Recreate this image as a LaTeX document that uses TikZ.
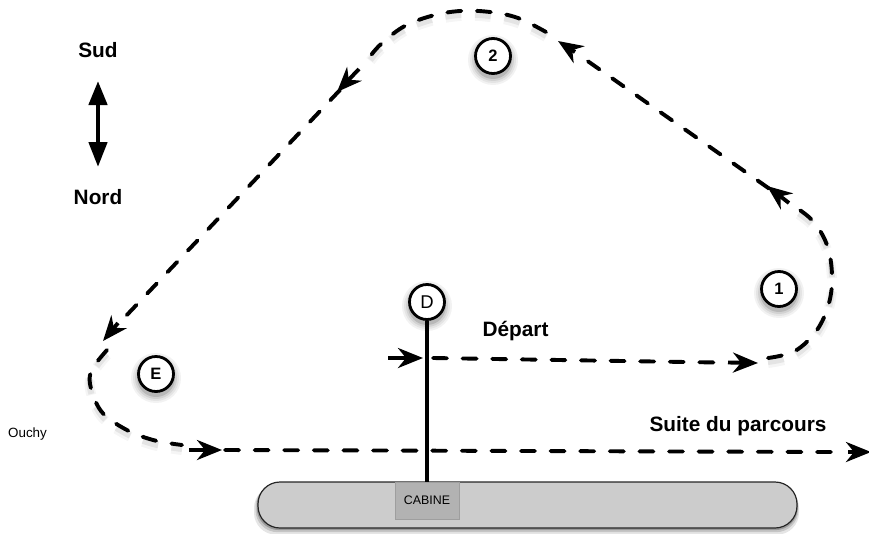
\documentclass[tikz,border=0pt]{standalone}
\usepackage{fontspec}
\setmainfont{Liberation Sans}
\usetikzlibrary{arrows.meta}

\tikzset{
  station/.style={circle,draw=black,fill=white,line width=2.8,minimum size=35,inner sep=0,font=\fontsize{16.5}{18}\bfseries},
  routedash/.style={line width=3.9,line cap=round,dash pattern=on 14 off 15.6},
  routehead/.style={line width=3.9,-{Stealth[length=25,width=20,inset=8]}},
  routeglow/.style={preaction={draw,black,opacity=.04,line width=10,line cap=butt,dash pattern=on 16 off 13.6,transform canvas={yshift=-5pt}},preaction={draw,black,opacity=.07,line width=6,line cap=butt,dash pattern=on 16 off 13.6,transform canvas={yshift=-4pt}}},
  boldlabel/.style={font=\fontsize{20.8}{22}\bfseries},
}

\begin{document}
\begin{tikzpicture}[x=1pt,y=-1pt]
  \useasboundingbox (0,0) rectangle (869,533);

  % band and cabin
  \foreach \w/\o in {8/.10,5/.14,2.5/.22}
    \fill[black,opacity=\o,rounded corners=22] (258-\w/2,482+\w/2) rectangle (797+\w/4,528+\w/1.2);
  \node[draw=black!85,fill=black!20,line width=1.2,rounded corners=22,minimum width=539,minimum height=46,inner sep=0] (band) at (527.5,505) {};
  \node[draw=black!38,fill=black!30,line width=.8,minimum width=64,minimum height=37,inner sep=0,font=\fontsize{12.4}{14}\selectfont] (cabine) at (427,500.5) {CABINE};

  % stations
  \foreach \nm/\x/\y/\lab in {dep/427/302/{\fontsize{18.5}{20}\mdseries D},one/779/289/1,two/493/56/2,ent/156/374/E} {
    \foreach \r/\o in {25/.05,23/.06,21/.08,19/.12}
      \fill[black,opacity=\o] (\x,\y+4) circle [radius=\r];
    \node[station] (\nm) at (\x,\y) {\lab};
  }
  \draw[line width=3.9] (dep.south) -- (cabine.north);

  % route
  \coordinate (startin) at (388,358);
  \coordinate (starttip) at (423,358);
  \coordinate (startdash) at (433,358);
  \coordinate (onein) at (717,362.5);
  \coordinate (oneshaft) at (728,362.5);
  \coordinate (onetip) at (758,363);
  \coordinate (upshaft) at (789,203);
  \coordinate (uptip) at (767,186);
  \coordinate (updash) at (769,188.5);
  \coordinate (twoin) at (584,58.5);
  \coordinate (twonotch) at (575,52);
  \coordinate (twotip) at (558,41);
  \coordinate (downshaft) at (359,69);
  \coordinate (downtip) at (337,92);
  \coordinate (downdash) at (340,90);
  \coordinate (entin) at (125,317);
  \coordinate (entnotch) at (118,323);
  \coordinate (enttip) at (103,341);
  \coordinate (outshaft) at (189,450);
  \coordinate (outtip) at (222,450);
  \coordinate (outdash) at (225,450);
  \coordinate (endin) at (835,452);
  \coordinate (endshaft) at (848,452);
  \coordinate (endtip) at (871,452);

  \draw[routehead] (startin) -- (starttip);
  \draw[routedash] (startdash) -- (onein);
  \draw[routehead] (oneshaft) -- (onetip);
  \draw[routedash,routeglow] plot[smooth,tension=.6] coordinates {(768,358) (795,351) (817,330) (829,303) (832,275) (827,245) (812,220) (789,203)};
  \draw[routedash] (updash) -- (twoin);
  \draw[routehead] (upshaft) -- (uptip);
  \draw[routehead] (twonotch) -- (twotip);
  \draw[routedash,routeglow] plot[smooth,tension=.6] coordinates {(546,32) (518,18) (490,12) (460,11) (431,16) (403,27) (380,45) (369,58)};
  \draw[routedash] (downdash) -- (entin);
  \draw[routehead] (downshaft) -- (downtip);
  \draw[routehead] (entnotch) -- (enttip);
  \draw[routedash,routeglow] plot[smooth,tension=.6] coordinates {(107,350) (93,368) (90,384) (101,411) (125,429) (153,440) (182,445)};
  \draw[routehead] (outshaft) -- (outtip);
  \draw[routedash] (outdash) -- (endin);
  \draw[routehead] (endshaft) -- (endtip);

  % labels
  \node[boldlabel] (sud) at (98,50) {Sud};
  \node[boldlabel] (nord) at (98,197) {Nord};
  \node[boldlabel] (depart) at (515.5,331) {Départ};
  \node[boldlabel] (suite) at (738,426) {Suite du parcours};
  \node[font=\fontsize{13.4}{15}\selectfont] (ouchy) at (27.5,434) {Ouchy};

  \coordinate (northtip) at (98,81);
  \coordinate (southtip) at (98,167);
  \draw[line width=4.5,{Triangle[length=24,width=18]}-{Triangle[length=25,width=18]}] (northtip) -- (southtip);
\end{tikzpicture}
\end{document}
